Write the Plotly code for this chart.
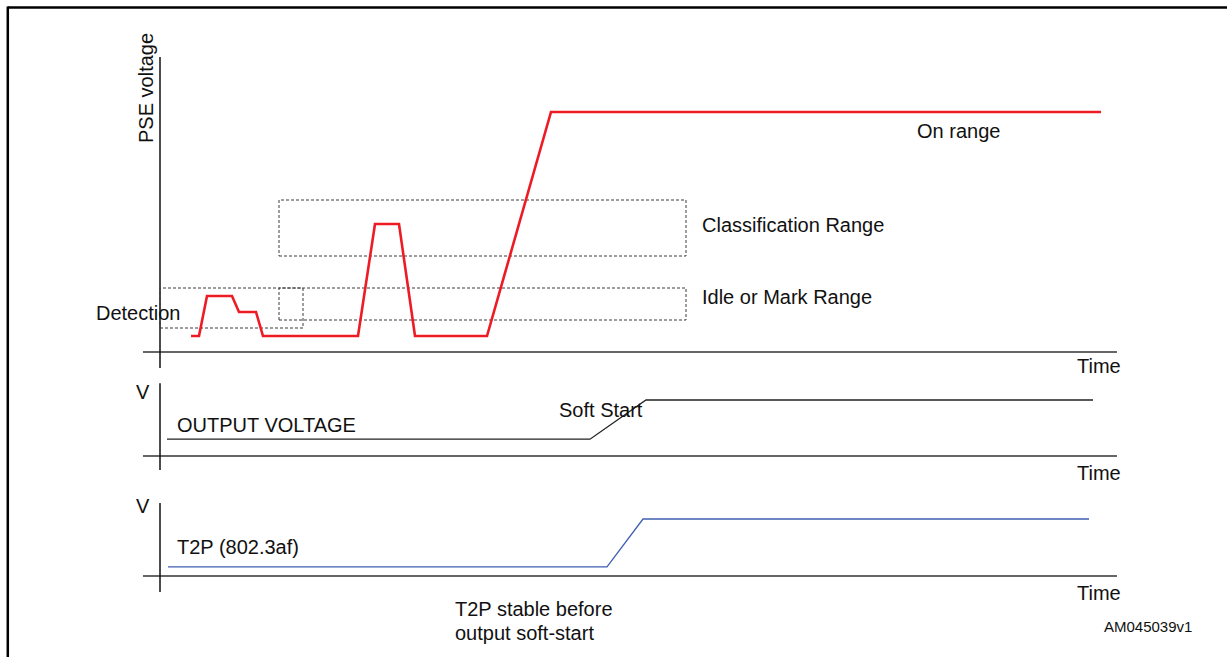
import plotly.graph_objects as go

# ---------------- data (schematic time units / voltage units) ----------------
# Panel 1: PSE voltage (red)
pse_t = [3.1, 3.9, 4.7, 7.2, 7.9, 9.6, 10.3, 19.8, 21.5, 23.9, 25.5, 32.7, 39.1, 94.1]
pse_v = [3.2, 3.2, 11.2, 11.2, 8.0, 8.0, 3.2, 3.2, 25.6, 25.6, 3.2, 3.2, 48.0, 48.0]

# Dashed ranges on panel 1
detection_window = [0.0, 14.3]
detection_range = [4.8, 12.8]
range_window = [11.9, 52.6]
mark_range = [6.4, 12.8]
class_range = [19.2, 30.4]

# Panel 2: output voltage
out_t = [0.7, 43.0, 48.6, 93.3]
out_v = [0.3, 0.3, 1.0, 1.0]

# Panel 3: T2P
t2p_t = [0.8, 44.7, 48.3, 92.9]
t2p_v = [0.16, 0.16, 1.0, 1.0]

# Axis spans
time_span = [-1.7, 95.7]
pse_axis_span = [-3.2, 59.0]
out_axis_span = [-0.25, 1.30]
t2p_axis_span = [-0.28, 1.28]

FONT = "Liberation Sans, Arial, sans-serif"
RED = "#ED1C24"
BLUE = "#3F5FB0"
AX = "#333333"

fig = go.Figure()

def line(x, y, yaxis, color, width, dash=None):
    fig.add_trace(go.Scatter(x=x, y=y, yaxis=yaxis, mode="lines",
                             line=dict(color=color, width=width, dash=dash),
                             hoverinfo="skip", showlegend=False))

# axes (drawn as schematic lines)
for ya, span in (("y", pse_axis_span), ("y2", out_axis_span), ("y3", t2p_axis_span)):
    line(time_span, [0, 0], ya, AX, 1.5)
    line([0, 0], span, ya, "#111111", 1.5)

# dashed boxes
def box(xr, yr):
    line([xr[0], xr[1], xr[1], xr[0], xr[0]], [yr[0], yr[0], yr[1], yr[1], yr[0]],
         "y", "#3a3a3a", 1, "3px,2px")

box(detection_window, detection_range)
box(range_window, mark_range)
box(range_window, class_range)

# signals
line(pse_t, pse_v, "y", RED, 2.6)
line(out_t, out_v, "y2", "#222222", 1.3)
line(t2p_t, t2p_v, "y3", BLUE, 1.3)

def ann(text, x, y, yref, size=20, xanchor="left", angle=0):
    fig.add_annotation(text=text, x=x, y=y, xref="x", yref=yref, showarrow=False,
                       xanchor=xanchor, yanchor="middle", textangle=angle,
                       font=dict(family=FONT, size=size, color="#111111"))

ann("PSE voltage", -1.4, 52.8, "y", xanchor="center", angle=-90)
ann("On range", 75.5, 44.2, "y")
ann("Classification Range", 54.0, 25.4, "y")
ann("Idle or Mark Range", 54.0, 11.0, "y")
ann("Detection", -6.6, 7.8, "y")
ann("Time", 91.5, -2.8, "y")

ann("V", -1.7, 1.14, "y2", xanchor="center")
ann("OUTPUT VOLTAGE", 1.5, 0.55, "y2")
ann("Soft Start", 39.7, 0.82, "y2")
ann("Time", 91.5, -0.30, "y2")

ann("V", -1.7, 1.23, "y3", xanchor="center")
ann("T2P (802.3af)", 1.5, 0.51, "y3")
ann("Time", 91.5, -0.30, "y3")
ann("T2P stable before", 29.3, -0.58, "y3")
ann("output soft-start", 29.3, -1.0, "y3")
ann("AM045039v1", 94.2, -0.89, "y3", size=15)

# outer frame (left and top edges)
fig.add_shape(type="line", xref="paper", yref="paper", x0=7.8/1227, x1=7.8/1227,
              y0=0, y1=1 - 6.5/657, line=dict(color="black", width=2.5))
fig.add_shape(type="line", xref="paper", yref="paper", x0=7.8/1227, x1=1,
              y0=1 - 7.5/657, y1=1 - 7.5/657, line=dict(color="black", width=2.5))

fig.update_layout(
    width=1227, height=657,
    margin=dict(l=0, r=0, t=0, b=0),
    paper_bgcolor="white", plot_bgcolor="white",
    xaxis=dict(range=[-16, 106.7], visible=False, fixedrange=True),
    yaxis=dict(range=[-61, 70.4], visible=False, fixedrange=True),
    yaxis2=dict(range=[(456 - 657) / 56, 456 / 56], overlaying="y", visible=False, fixedrange=True),
    yaxis3=dict(range=[(576 - 657) / 57, 576 / 57], overlaying="y", visible=False, fixedrange=True),
    hovermode=False,
)

fig.write_html("out.html", config={"displayModeBar": False},
               post_script="document.body.style.margin='0';document.body.style.overflow='hidden';")
